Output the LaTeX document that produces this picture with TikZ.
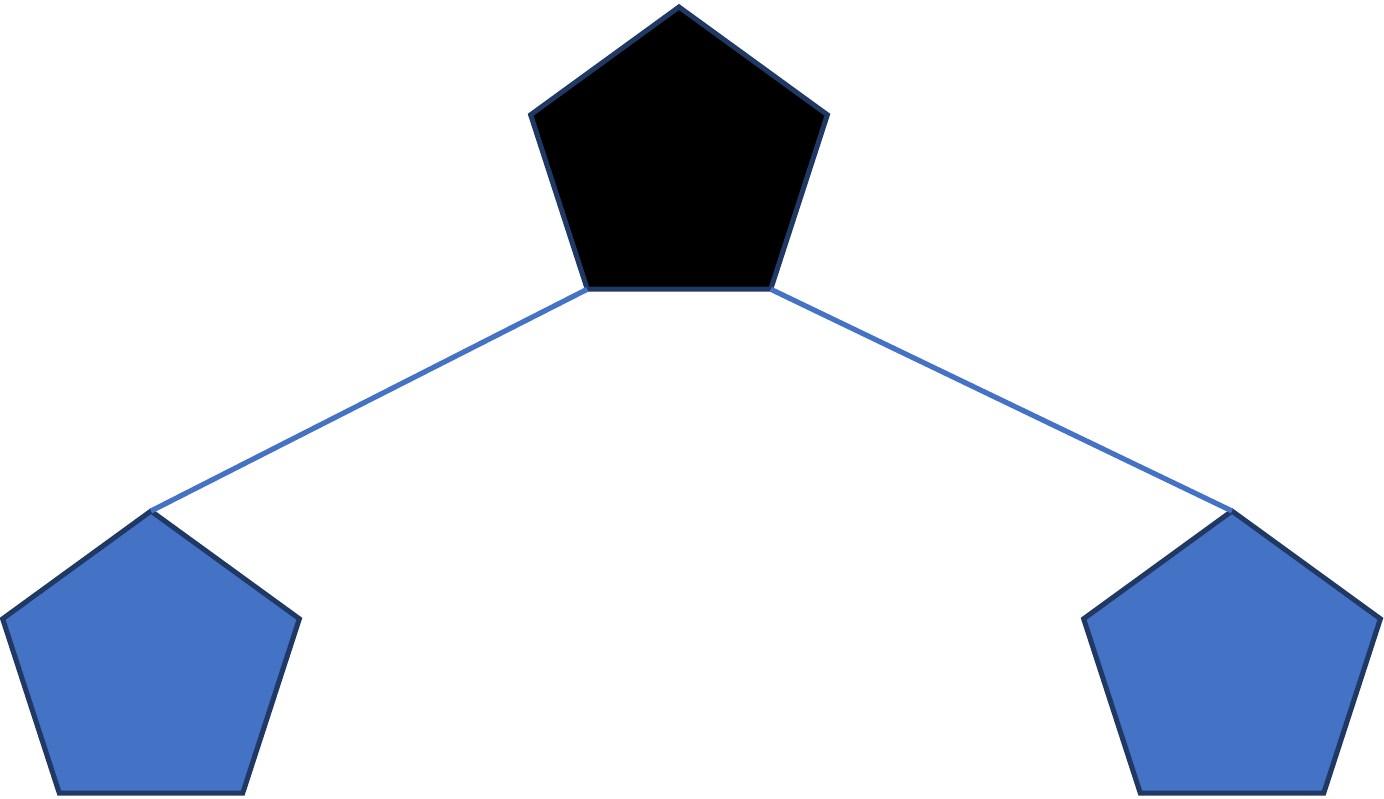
\documentclass[tikz,border=0pt]{standalone}
\usepackage{tikz}
\usetikzlibrary{shapes.geometric,backgrounds}
\definecolor{penblue}{HTML}{4472C4}
\definecolor{pennavy}{HTML}{1F3864}
\tikzset{
  penta/.style={regular polygon, regular polygon sides=5, minimum size=156pt,
    inner sep=0pt, outer sep=0pt, draw=pennavy, line width=2.5pt, line join=miter},
  edge/.style={draw=penblue, line width=2.6pt}
}
\begin{document}
\begin{tikzpicture}[x=0.5pt,y=-0.5pt]
\useasboundingbox (0,0) rectangle (1384,798);
\node[penta, fill=black] (root) at (679,163) {};
\node[penta, fill=penblue] (leftleaf) at (151,667) {};
\node[penta, fill=penblue] (rightleaf) at (1232,667) {};
\draw[edge] (root.corner 3) -- (leftleaf.corner 1);
\draw[edge] (root.corner 4) -- (rightleaf.corner 1);
\end{tikzpicture}
\end{document}
